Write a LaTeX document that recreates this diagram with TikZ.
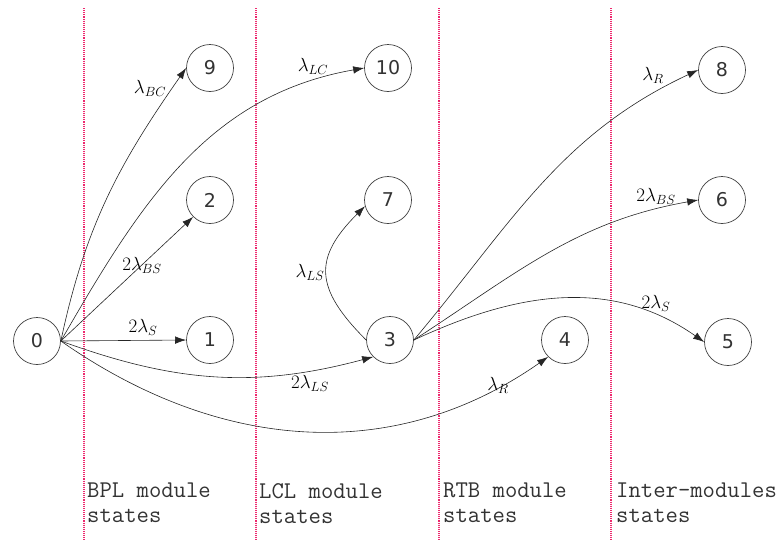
\RequirePackage{fix-cm}
\documentclass[tikz,border=0pt]{standalone}
\usepackage{fontspec}
\usetikzlibrary{arrows.meta}
\newfontfamily\numfont{DejaVu Sans}
\definecolor{sepcol}{RGB}{238,40,110}
\begin{document}
\begin{tikzpicture}[x=1pt,y=1pt,
 stnode/.style={circle,draw=black!75,line width=0.7pt,minimum size=47pt,inner sep=0pt,text=black!80,font=\numfont\fontsize{19}{19}\selectfont},
 tr/.style={-{Latex[length=11pt,width=7.5pt]},line width=0.6pt,black!85},
 lab/.style={inner sep=1pt,font=\fontsize{19}{19}\selectfont},
 sepline/.style={sepcol,densely dotted,line width=1.1pt},
 captext/.style={font=\ttfamily\fontsize{24}{25}\selectfont,align=left,anchor=north west,inner sep=0pt,text=black!80}]
\useasboundingbox (0,0) rectangle (783,-541);
% separators
\foreach \xx/\nm in {84/a,256/b,439/c,611/d}{
  \coordinate (top\nm) at (\xx,-8);
  \coordinate (bot\nm) at (\xx,-541);
  \draw[sepline] (top\nm) -- (bot\nm);
}
% states
\node[stnode] (n0) at (37,-341) {0};
\node[stnode] (n1) at (210,-340) {1};
\node[stnode] (n2) at (210,-200) {2};
\node[stnode] (n9) at (210,-68) {9};
\node[stnode] (n10) at (388,-68) {10};
\node[stnode] (n7) at (388,-200) {7};
\node[stnode] (n3) at (390,-340) {3};
\node[stnode] (n4) at (565,-340) {4};
\node[stnode] (n8) at (722,-70) {8};
\node[stnode] (n6) at (722,-200) {6};
\node[stnode] (n5) at (728,-342) {5};
% transitions
\draw[tr] (n0.east) to[out=78,in=235] (n9.west);
\draw[tr] (n0.east) to[out=60,in=190] (n10.west);
\draw[tr] (n0.east) -- (n2.south west);
\draw[tr] (n0.east) -- (n1.west);
\draw[tr] (n0.east) to[out=-20,in=195] (n3.south west);
\draw[tr] (n0.east) to[out=-35,in=215] (n4.south west);
\draw[tr] (n3.west) to[out=135,in=225,looseness=1.4] (n7.195);
\draw[tr] (n3.east) to[out=50,in=205] (n8.west);
\draw[tr] (n3.east) to[out=33,in=190] (n6.west);
\draw[tr] (n3.east) to[out=25,in=145] (n5.west);
% labels
\node[lab] (lbc) at (150,-88) {$\lambda_{BC}$};
\node[lab] (llc) at (313,-66) {$\lambda_{LC}$};
\node[lab] (lbs) at (142,-265) {$2\lambda_{BS}$};
\node[lab] (ls) at (143,-327) {$2\lambda_{S}$};
\node[lab] (lls) at (310,-383) {$2\lambda_{LS}$};
\node[lab] (lr) at (498,-385) {$\lambda_{R}$};
\node[lab] (lls2) at (310,-272) {$\lambda_{LS}$};
\node[lab] (lr2) at (653,-75) {$\lambda_{R}$};
\node[lab] (lbs2) at (656,-196) {$2\lambda_{BS}$};
\node[lab] (ls2) at (656,-303) {$2\lambda_{S}$};
% captions
\node[captext] (c1) at (87,-483) {BPL module\\states};
\node[captext] (c2) at (259,-483) {LCL module\\states};
\node[captext] (c3) at (443,-483) {RTB module\\states};
\node[captext] (c4) at (616,-483) {Inter-modules\\states};
\end{tikzpicture}
\end{document}
